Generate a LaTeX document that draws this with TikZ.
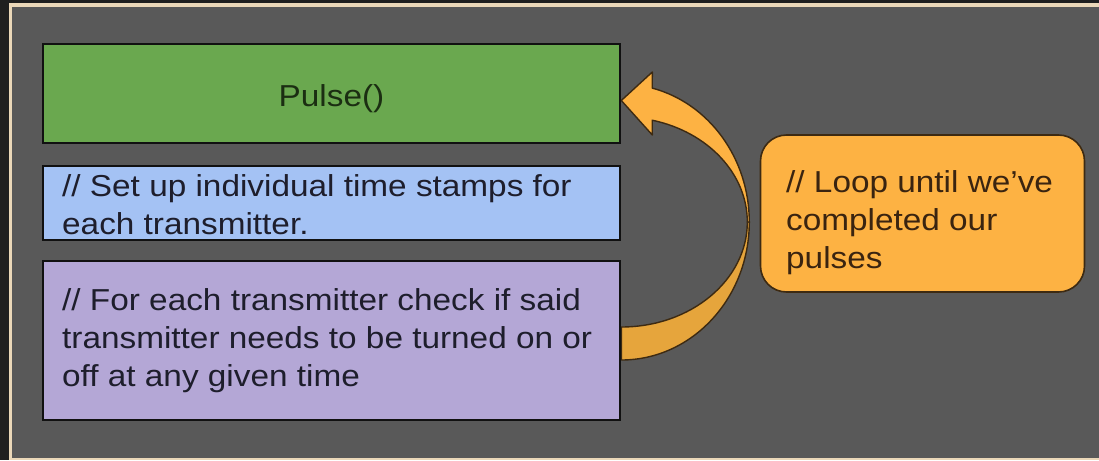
\documentclass[tikz,border=0pt]{standalone}
\usepackage{fontspec}
\setmainfont{Liberation Sans}[FakeStretch=1.1]
\usetikzlibrary{calc}

\definecolor{framedark}{HTML}{1F1F1F}
\definecolor{framebeige}{HTML}{EBD8B9}
\definecolor{panelgray}{HTML}{595959}
\definecolor{pulsegreen}{HTML}{6AA84F}
\definecolor{setupblue}{HTML}{A4C2F4}
\definecolor{checkpurple}{HTML}{B4A7D6}
\definecolor{looporange}{HTML}{FDB243}
\definecolor{loopback}{HTML}{E6A53C}
\definecolor{loopline}{HTML}{3D2A12}
\definecolor{boxline}{HTML}{111111}
\definecolor{codetext}{HTML}{1E1E2C}
\definecolor{pulsetext}{HTML}{1B2E12}
\definecolor{looptext}{HTML}{3A2410}

\pgfdeclarelayer{panel}
\pgfdeclarelayer{arrow}
\pgfsetlayers{panel,arrow,main}

\tikzset{
  slidefont/.style={font=\fontsize{30.3}{38}\selectfont},
  codebox/.style={draw=boxline, line width=2.6pt, rectangle, inner sep=0pt,
    minimum width=577pt},
  codetextnode/.style={slidefont, align=left, inner sep=0pt, anchor=north west,
    text=codetext},
  arrowfront/.style={fill=looporange, draw=loopline, line width=1.4pt, line join=round},
  arrowrear/.style={fill=loopback, draw=loopline, line width=1.4pt, line join=round},
}

\begin{document}
\begin{tikzpicture}[x=1pt, y=-1pt]
\useasboundingbox (0,0) rectangle (1099,460);

% slide frame and panel
\begin{pgfonlayer}{panel}
  \fill[framedark] (0,0) rectangle (1099,460);
  \fill[framebeige] (9,3) rectangle (1099,460);
  \fill[panelgray] (12,7.3) rectangle (1099,458);
\end{pgfonlayer}

% code blocks
\node[codebox, fill=pulsegreen, minimum height=99pt, slidefont, text=pulsetext,
  text height=26pt, text depth=0pt]
  (pulse) at (331.5,93.5) {Pulse()};
\node[codebox, fill=setupblue, minimum height=74pt] (setup) at (331.5,203) {};
\node[codetextnode] (setuptext) at (62,174)
  {// Set up individual time stamps for\\each transmitter.};
\node[codebox, fill=checkpurple, minimum height=159pt] (check) at (331.5,340.5) {};
\node[codetextnode] (checktext) at (62,288)
  {// For each transmitter check if said\\transmitter needs to be turned on or\\off at any given time};

% loop note
\node[draw=loopline, line width=1.6pt, fill=looporange, rounded corners=26pt,
  minimum width=324pt, minimum height=157pt, inner sep=0pt]
  (loop) at (922.5,213.5) {};
\node[codetextnode, text=looptext] (looptextnode) at (786,170)
  {// Loop until we’ve\\completed our\\pulses};

% curved loop-back arrow from the check block to Pulse()
\coordinate (tip) at ([yshift=-7pt]pulse.east);
\coordinate (bend) at ([yshift=-8.5pt]pulse.east |- loop.center);
\begin{pgfonlayer}{arrow}
  \filldraw[arrowrear]
    ($(bend)+(0:126 and 105)$)
      arc[start angle=0, end angle=90, x radius=126, y radius=105]
    -- ($(bend)+(90:128 and 138)$)
      arc[start angle=90, end angle=0, x radius=128, y radius=138]
    -- cycle;
  \filldraw[arrowfront]
    ($(bend)+(-76:128 and 138)$)
      arc[start angle=-76, end angle=0, x radius=128, y radius=138]
    -- ($(bend)+(0:126 and 105)$)
      arc[start angle=0, end angle=-75.8, x radius=126, y radius=105]
    -- ($(bend)+(31,-87)$)
    -- (tip)
    -- ($(bend)+(31,-150)$)
    -- cycle;
\end{pgfonlayer}
\end{tikzpicture}
\end{document}
